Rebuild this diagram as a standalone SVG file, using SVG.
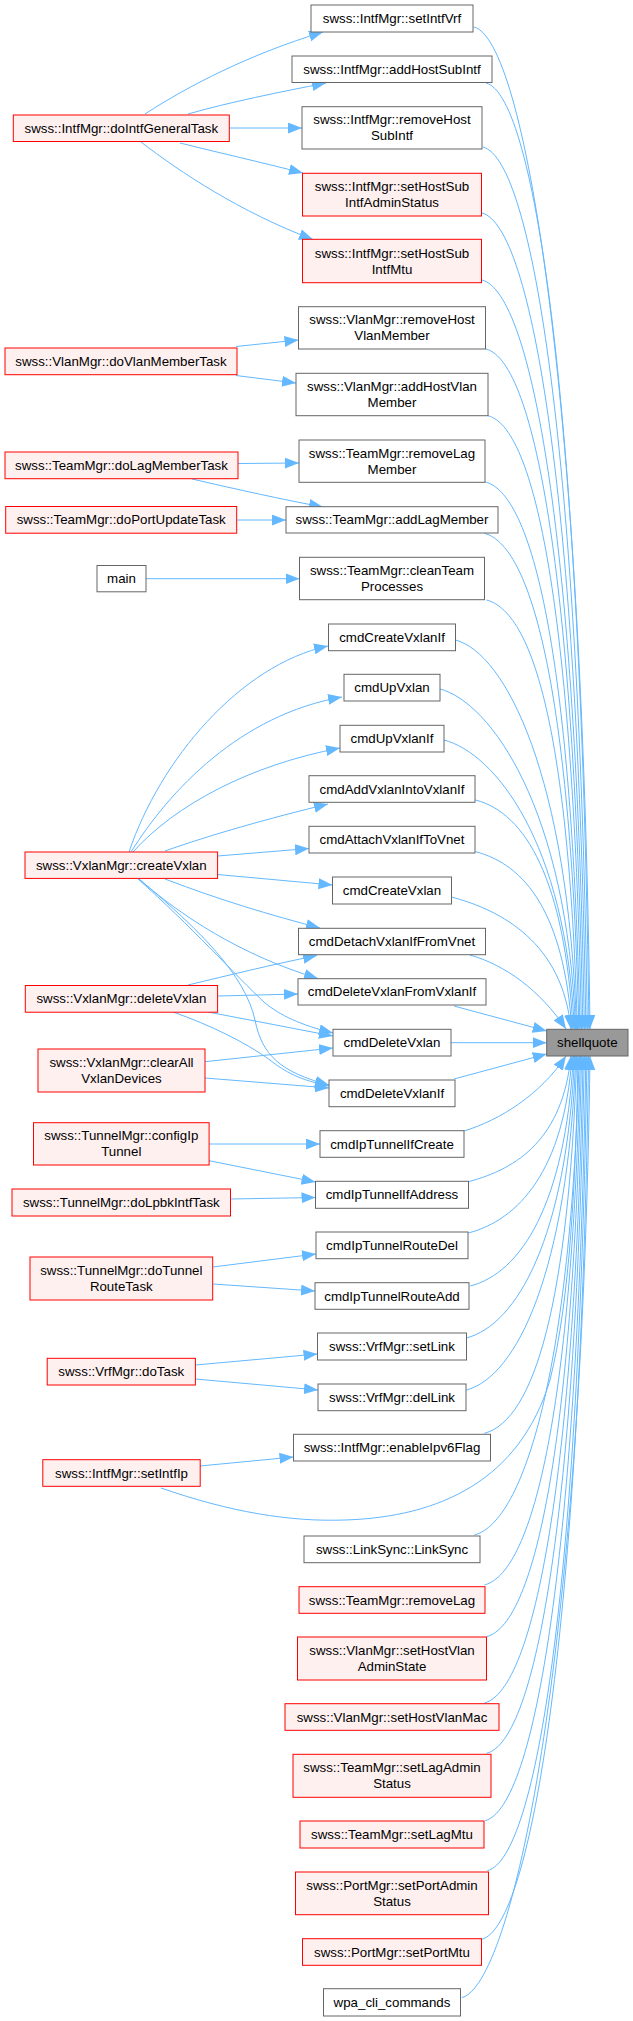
<svg xmlns="http://www.w3.org/2000/svg" width="633" height="2021" viewBox="0 0 633 2021">
<style>
.n{fill:#ffffff;stroke:#666666;stroke-width:1}
.r{fill:#fff0f0;stroke:#ff0000;stroke-width:1}
.root{fill:#999999;stroke:#666666;stroke-width:1}
text{font-family:"Liberation Sans",Arial,sans-serif;font-size:13.3px;text-anchor:middle;fill:#000000}
.e{fill:none;stroke:#63b8ff;stroke-width:1}
</style>
<defs>
<marker id="ah" markerUnits="userSpaceOnUse" markerWidth="15" markerHeight="12" refX="14" refY="5.5" orient="auto">
<path d="M0,0 L14,5.5 L0,11 Z" fill="#63b8ff"/>
</marker>
</defs>
<rect width="633" height="2021" fill="#ffffff"/>
<g id="connectors" marker-end="url(#ah)">
<path class="e" marker-end="url(#ah)" d="M145,114 C188,86 250,54 323,32"/>
<path class="e" marker-end="url(#ah)" d="M188,114 C230,102 280,92 326,83"/>
<path class="e" marker-end="url(#ah)" d="M229,128 L302,128"/>
<path class="e" marker-end="url(#ah)" d="M180,143 C220,153 260,162 303,173"/>
<path class="e" marker-end="url(#ah)" d="M141,142 C180,172 240,212 313,239.5"/>
<path class="e" marker-end="url(#ah)" d="M236,346.5 L298.5,340"/>
<path class="e" marker-end="url(#ah)" d="M236,375.5 L296,383"/>
<path class="e" marker-end="url(#ah)" d="M238,463.5 L299,463"/>
<path class="e" marker-end="url(#ah)" d="M192,479 C240,490 280,499 323,507"/>
<path class="e" marker-end="url(#ah)" d="M236.6,520 L286,520"/>
<path class="e" marker-end="url(#ah)" d="M146,578.7 L299.5,578.7"/>
<path class="e" marker-end="url(#ah)" d="M129,852 C160,760 240,665 328,646"/>
<path class="e" marker-end="url(#ah)" d="M131,852 C170,790 240,715 342,697"/>
<path class="e" marker-end="url(#ah)" d="M133,852 C175,805 250,765 340,748"/>
<path class="e" marker-end="url(#ah)" d="M165,851 C210,835 270,818 328,804"/>
<path class="e" marker-end="url(#ah)" d="M217.6,856 L309,848.5"/>
<path class="e" marker-end="url(#ah)" d="M217.6,874.5 L332.5,885"/>
<path class="e" marker-end="url(#ah)" d="M165,879 C220,900 270,915 320,928"/>
<path class="e" marker-end="url(#ah)" d="M139,879 C180,915 240,955 318,978.5"/>
<path class="e" marker-end="url(#ah)" d="M138,879 C190,925 235,975 265,1003 C280,1015 300,1025 333,1033"/>
<path class="e" marker-end="url(#ah)" d="M139,879 C200,930 245,975 255,1020 C262,1055 280,1072 329,1085"/>
<path class="e" marker-end="url(#ah)" d="M188,985 C230,975 270,965 317,955.5"/>
<path class="e" marker-end="url(#ah)" d="M217.6,996 L298,994"/>
<path class="e" marker-end="url(#ah)" d="M208,1012 L333,1036"/>
<path class="e" marker-end="url(#ah)" d="M173,1012 C210,1025 245,1042 270,1060 C285,1072 300,1080 329,1086"/>
<path class="e" marker-end="url(#ah)" d="M205,1061.7 L333,1048"/>
<path class="e" marker-end="url(#ah)" d="M205,1078 L329,1088"/>
<path class="e" marker-end="url(#ah)" d="M209,1144 L320,1144"/>
<path class="e" marker-end="url(#ah)" d="M209,1160.7 L315.5,1182"/>
<path class="e" marker-end="url(#ah)" d="M230.5,1199 L315.5,1197.5"/>
<path class="e" marker-end="url(#ah)" d="M212.7,1267 L316,1254"/>
<path class="e" marker-end="url(#ah)" d="M212.7,1284 L315,1291"/>
<path class="e" marker-end="url(#ah)" d="M195.4,1365 L317.5,1354"/>
<path class="e" marker-end="url(#ah)" d="M195.4,1379 L318,1390"/>
<path class="e" marker-end="url(#ah)" d="M200,1466 L293.5,1457"/>
<path class="e" marker-end="url(#ah)" d="M161,1488 C230,1512 290,1522 345,1520 C440,1517 520,1480 550,1380 C570,1300 576,1180 578,1056"/>
<path class="e" marker-end="url(#ah)" d="M474,27 C524,40 582,378 590,1029"/>
<path class="e" marker-end="url(#ah)" d="M486,83 C536,96 581,414 589,1029"/>
<path class="e" marker-end="url(#ah)" d="M483,147 C533,160 579.4,455.7 587.4,1029"/>
<path class="e" marker-end="url(#ah)" d="M482,213 C532,226 577.9,498.6 585.9,1029"/>
<path class="e" marker-end="url(#ah)" d="M482,280 C532,293 576.4,542 584.4,1029"/>
<path class="e" marker-end="url(#ah)" d="M486,349 C536,362 574.9,587 582.9,1029"/>
<path class="e" marker-end="url(#ah)" d="M488,415.7 C538,428.7 573.5,630.3 581.5,1029"/>
<path class="e" marker-end="url(#ah)" d="M485.5,482 C535.5,495 572,673.5 580,1029"/>
<path class="e" marker-end="url(#ah)" d="M484.4,533.3 C534.4,546.3 570.9,706.9 578.9,1029"/>
<path class="e" marker-end="url(#ah)" d="M486.5,600 C536.5,613 569.4,750 577.4,1029"/>
<path class="e" marker-end="url(#ah)" d="M455.4,640 C505.4,653 568.5,776 576.5,1029"/>
<path class="e" marker-end="url(#ah)" d="M440,689 C490,702 567.5,808 575.5,1029"/>
<path class="e" marker-end="url(#ah)" d="M444,740 C494,753 566.3,841 574.3,1029"/>
<path class="e" marker-end="url(#ah)" d="M475.6,800 C525.6,813 565,880 573,1029"/>
<path class="e" marker-end="url(#ah)" d="M475.6,851.7 C525.6,864.7 563.9,913.7 571.9,1029"/>
<path class="e" marker-end="url(#ah)" d="M451.3,897 C501.3,910 562.9,943 570.9,1029"/>
<path class="e" marker-end="url(#ah)" d="M470,955 C505,965 540,990 566,1029"/>
<path class="e" marker-end="url(#ah)" d="M454,1006 L546.7,1031"/>
<path class="e" marker-end="url(#ah)" d="M451,1042.7 L546.7,1042.7"/>
<path class="e" marker-end="url(#ah)" d="M454,1079 L546.7,1054"/>
<path class="e" marker-end="url(#ah)" d="M464,1131 C500,1120 540,1095 566,1056"/>
<path class="e" marker-end="url(#ah)" d="M468.3,1181.7 C518.3,1168.7 562.9,1137.7 570.9,1056"/>
<path class="e" marker-end="url(#ah)" d="M468.3,1233 C518.3,1220 564.1,1171 572.1,1056"/>
<path class="e" marker-end="url(#ah)" d="M470.3,1286 C520.3,1273 565.4,1205.5 573.4,1056"/>
<path class="e" marker-end="url(#ah)" d="M466.3,1338 C516.3,1325 566.6,1239.3 574.6,1056"/>
<path class="e" marker-end="url(#ah)" d="M466.3,1390 C516.3,1377 567.8,1273 575.8,1056"/>
<path class="e" marker-end="url(#ah)" d="M484.4,1433.3 C534.4,1420.3 568.8,1301.4 576.8,1056"/>
<path class="e" marker-end="url(#ah)" d="M474.3,1535 C524.3,1522 571.2,1367.4 579.2,1056"/>
<path class="e" marker-end="url(#ah)" d="M484.4,1585 C534.4,1572 572.4,1399.9 580.4,1056"/>
<path class="e" marker-end="url(#ah)" d="M486.5,1636.7 C536.5,1623.7 573.6,1433.4 581.6,1056"/>
<path class="e" marker-end="url(#ah)" d="M484.4,1703 C534.4,1690 575.1,1476.6 583.1,1056"/>
<path class="e" marker-end="url(#ah)" d="M486.7,1753.3 C536.7,1740.3 576.3,1509.4 584.3,1056"/>
<path class="e" marker-end="url(#ah)" d="M485,1820.7 C535,1807.7 577.9,1553 585.9,1056"/>
<path class="e" marker-end="url(#ah)" d="M487.3,1870.7 C537.3,1857.7 579,1585.5 587,1056"/>
<path class="e" marker-end="url(#ah)" d="M481.7,1939.3 C531.7,1926.3 580.6,1630.2 588.6,1056"/>
<path class="e" marker-end="url(#ah)" d="M461.7,1997.7 C511.7,1984.7 582,1668 590,1056"/>
</g>
<g id="node_doIntfGeneralTask"><rect class="r" x="13.3" y="115" width="216" height="26.5"/><text x="121.3" y="132.7">swss::IntfMgr::doIntfGeneralTask</text></g>
<g id="node_doVlanMemberTask"><rect class="r" x="5" y="348" width="232" height="26.7"/><text x="121" y="365.8">swss::VlanMgr::doVlanMemberTask</text></g>
<g id="node_doLagMemberTask"><rect class="r" x="5" y="452" width="233" height="26.7"/><text x="121.5" y="469.8">swss::TeamMgr::doLagMemberTask</text></g>
<g id="node_doPortUpdateTask"><rect class="r" x="5.7" y="506.5" width="231" height="26.7"/><text x="121.2" y="524.3">swss::TeamMgr::doPortUpdateTask</text></g>
<g id="node_main"><rect class="n" x="97" y="565.5" width="49" height="26.3"/><text x="121.5" y="583.2">main</text></g>
<g id="node_createVxlan"><rect class="r" x="25" y="852" width="192.6" height="26.4"/><text x="121.3" y="869.7">swss::VxlanMgr::createVxlan</text></g>
<g id="node_deleteVxlan"><rect class="r" x="25.3" y="985.5" width="192.3" height="26.7"/><text x="121.4" y="1003.3">swss::VxlanMgr::deleteVxlan</text></g>
<g id="node_clearAllVxlanDevices"><rect class="r" x="38" y="1049" width="167" height="43"/><text x="121.5" y="1067">swss::VxlanMgr::clearAll</text><text x="121.5" y="1083">VxlanDevices</text></g>
<g id="node_configIpTunnel"><rect class="r" x="33.5" y="1122.7" width="175.6" height="42.3"/><text x="121.3" y="1140.3">swss::TunnelMgr::configIp</text><text x="121.3" y="1156.3">Tunnel</text></g>
<g id="node_doLpbkIntfTask"><rect class="r" x="12" y="1189" width="218.5" height="27"/><text x="121.3" y="1207">swss::TunnelMgr::doLpbkIntfTask</text></g>
<g id="node_doTunnelRouteTask"><rect class="r" x="30" y="1257" width="182.7" height="43"/><text x="121.3" y="1275">swss::TunnelMgr::doTunnel</text><text x="121.3" y="1291">RouteTask</text></g>
<g id="node_VrfMgr_doTask"><rect class="r" x="47.2" y="1358.3" width="148.2" height="26.7"/><text x="121.3" y="1376.2">swss::VrfMgr::doTask</text></g>
<g id="node_setIntfIp"><rect class="r" x="42.8" y="1459.7" width="157.4" height="26.6"/><text x="121.5" y="1477.5">swss::IntfMgr::setIntfIp</text></g>
<g id="node_setIntfVrf"><rect class="n" x="311" y="5" width="162" height="27"/><text x="392" y="23">swss::IntfMgr::setIntfVrf</text></g>
<g id="node_addHostSubIntf"><rect class="n" x="292" y="56" width="200" height="26.5"/><text x="392" y="73.7">swss::IntfMgr::addHostSubIntf</text></g>
<g id="node_removeHostSubIntf"><rect class="n" x="302" y="106.7" width="180" height="42.3"/><text x="392" y="124.3">swss::IntfMgr::removeHost</text><text x="392" y="140.3">SubIntf</text></g>
<g id="node_setHostSubIntfAdminStatus"><rect class="r" x="302.5" y="173.3" width="179" height="42.7"/><text x="392" y="191.2">swss::IntfMgr::setHostSub</text><text x="392" y="207.2">IntfAdminStatus</text></g>
<g id="node_setHostSubIntfMtu"><rect class="r" x="302.5" y="239.3" width="179" height="43.4"/><text x="392" y="257.5">swss::IntfMgr::setHostSub</text><text x="392" y="273.5">IntfMtu</text></g>
<g id="node_removeHostVlanMember"><rect class="n" x="298.5" y="306.7" width="187" height="42.3"/><text x="392" y="324.3">swss::VlanMgr::removeHost</text><text x="392" y="340.3">VlanMember</text></g>
<g id="node_addHostVlanMember"><rect class="n" x="296" y="373.3" width="192" height="42.4"/><text x="392" y="391">swss::VlanMgr::addHostVlan</text><text x="392" y="407">Member</text></g>
<g id="node_removeLagMember"><rect class="n" x="299" y="440" width="186" height="42.3"/><text x="392" y="457.7">swss::TeamMgr::removeLag</text><text x="392" y="473.7">Member</text></g>
<g id="node_addLagMember"><rect class="n" x="286" y="506.7" width="212" height="26.3"/><text x="392" y="524.3">swss::TeamMgr::addLagMember</text></g>
<g id="node_cleanTeamProcesses"><rect class="n" x="299.5" y="557.3" width="185" height="42.4"/><text x="392" y="575">swss::TeamMgr::cleanTeam</text><text x="392" y="591">Processes</text></g>
<g id="node_cmdCreateVxlanIf"><rect class="n" x="328.5" y="624" width="127" height="26.7"/><text x="392" y="641.8">cmdCreateVxlanIf</text></g>
<g id="node_cmdUpVxlan"><rect class="n" x="344" y="674.3" width="96" height="26.7"/><text x="392" y="692.2">cmdUpVxlan</text></g>
<g id="node_cmdUpVxlanIf"><rect class="n" x="340" y="725.3" width="104" height="26.7"/><text x="392" y="743.2">cmdUpVxlanIf</text></g>
<g id="node_cmdAddVxlanIntoVxlanIf"><rect class="n" x="309" y="775.7" width="166" height="26.6"/><text x="392" y="793.5">cmdAddVxlanIntoVxlanIf</text></g>
<g id="node_cmdAttachVxlanIfToVnet"><rect class="n" x="309" y="826.3" width="166" height="26.7"/><text x="392" y="844.2">cmdAttachVxlanIfToVnet</text></g>
<g id="node_cmdCreateVxlan"><rect class="n" x="332.5" y="877" width="119" height="27"/><text x="392" y="895">cmdCreateVxlan</text></g>
<g id="node_cmdDetachVxlanIfFromVnet"><rect class="n" x="298.5" y="928.3" width="187" height="26.4"/><text x="392" y="946">cmdDetachVxlanIfFromVnet</text></g>
<g id="node_cmdDeleteVxlanFromVxlanIf"><rect class="n" x="298" y="978.7" width="188" height="26.3"/><text x="392" y="996.3">cmdDeleteVxlanFromVxlanIf</text></g>
<g id="node_cmdDeleteVxlan"><rect class="n" x="333" y="1029.3" width="118" height="26.7"/><text x="392" y="1047.2">cmdDeleteVxlan</text></g>
<g id="node_cmdDeleteVxlanIf"><rect class="n" x="329" y="1080" width="126" height="26.7"/><text x="392" y="1097.8">cmdDeleteVxlanIf</text></g>
<g id="node_cmdIpTunnelIfCreate"><rect class="n" x="320" y="1130.7" width="144" height="26.6"/><text x="392" y="1148.5">cmdIpTunnelIfCreate</text></g>
<g id="node_cmdIpTunnelIfAddress"><rect class="n" x="315.5" y="1181.3" width="153" height="27"/><text x="392" y="1199.3">cmdIpTunnelIfAddress</text></g>
<g id="node_cmdIpTunnelRouteDel"><rect class="n" x="316" y="1232" width="152" height="26.7"/><text x="392" y="1249.8">cmdIpTunnelRouteDel</text></g>
<g id="node_cmdIpTunnelRouteAdd"><rect class="n" x="315" y="1282.7" width="154" height="26.6"/><text x="392" y="1300.5">cmdIpTunnelRouteAdd</text></g>
<g id="node_setLink"><rect class="n" x="317.5" y="1333" width="149" height="27"/><text x="392" y="1351">swss::VrfMgr::setLink</text></g>
<g id="node_delLink"><rect class="n" x="318" y="1384" width="148" height="26.7"/><text x="392" y="1401.8">swss::VrfMgr::delLink</text></g>
<g id="node_enableIpv6Flag"><rect class="n" x="293.5" y="1434.3" width="197" height="26.7"/><text x="392" y="1452.2">swss::IntfMgr::enableIpv6Flag</text></g>
<g id="node_LinkSync"><rect class="n" x="304" y="1536" width="176" height="26.7"/><text x="392" y="1553.8">swss::LinkSync::LinkSync</text></g>
<g id="node_removeLag"><rect class="r" x="299" y="1586.7" width="186" height="26.6"/><text x="392" y="1604.5">swss::TeamMgr::removeLag</text></g>
<g id="node_setHostVlanAdminState"><rect class="r" x="297.5" y="1637" width="189" height="43"/><text x="392" y="1655">swss::VlanMgr::setHostVlan</text><text x="392" y="1671">AdminState</text></g>
<g id="node_setHostVlanMac"><rect class="r" x="285" y="1703.7" width="214" height="26.6"/><text x="392" y="1721.5">swss::VlanMgr::setHostVlanMac</text></g>
<g id="node_setLagAdminStatus"><rect class="r" x="293" y="1754.3" width="198" height="43"/><text x="392" y="1772.3">swss::TeamMgr::setLagAdmin</text><text x="392" y="1788.3">Status</text></g>
<g id="node_setLagMtu"><rect class="r" x="300" y="1821" width="184" height="27"/><text x="392" y="1839">swss::TeamMgr::setLagMtu</text></g>
<g id="node_setPortAdminStatus"><rect class="r" x="295.5" y="1872" width="193" height="42.7"/><text x="392" y="1889.8">swss::PortMgr::setPortAdmin</text><text x="392" y="1905.8">Status</text></g>
<g id="node_setPortMtu"><rect class="r" x="302.5" y="1938.7" width="179" height="26.6"/><text x="392" y="1956.5">swss::PortMgr::setPortMtu</text></g>
<g id="node_wpa_cli_commands"><rect class="n" x="323.5" y="1988.7" width="137" height="27.3"/><text x="392" y="2006.8">wpa_cli_commands</text></g>
<g id="node_shellquote"><rect class="root" x="546.7" y="1029.3" width="81.3" height="26.7"/><text x="587.3" y="1047.2">shellquote</text></g>
</svg>
